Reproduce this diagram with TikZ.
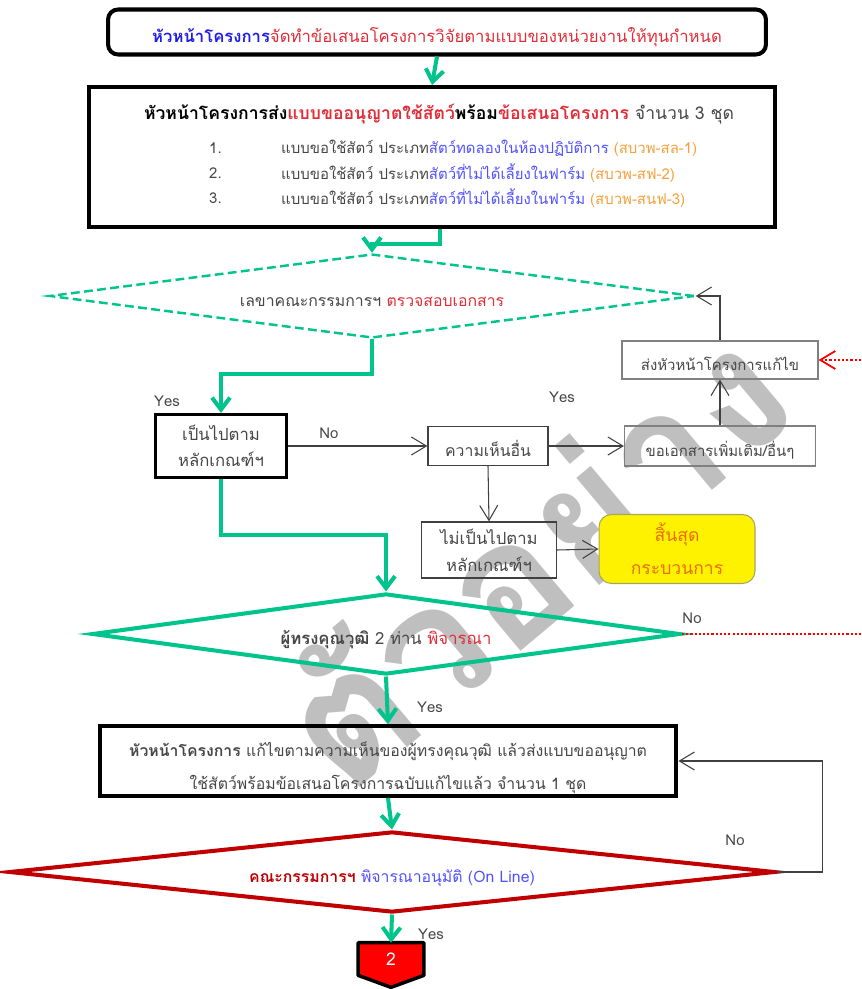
\documentclass[tikz,border=0pt]{standalone}
\usepackage{fontspec}
\setmainfont[Script=Thai]{Loma}
\usetikzlibrary{calc,shapes.geometric,arrows.meta}

\definecolor{flowgreen}{RGB}{0,196,140}
\definecolor{linegray}{RGB}{64,64,64}
\definecolor{boxgray}{RGB}{128,128,128}
\definecolor{textgray}{RGB}{70,70,70}
\definecolor{leadblue}{RGB}{30,30,230}
\definecolor{alertred}{RGB}{225,45,55}
\definecolor{itemblue}{RGB}{80,80,255}
\definecolor{codeorange}{RGB}{245,160,60}
\definecolor{boardred}{RGB}{192,0,0}
\definecolor{endorange}{RGB}{235,110,0}
\definecolor{wmgray}{RGB}{191,191,191}
\definecolor{dotred}{RGB}{255,0,0}

\begin{document}
\begin{tikzpicture}[x=0.02cm, y=-0.02cm,
  font=\fontsize{9}{11}\selectfont, text=textgray,
  lowtext/.style={text height=12.5pt, text depth=0pt},
  thickbox/.style={draw=black, line width=2.3pt, inner sep=0pt, align=center},
  thinbox/.style={draw=linegray, line width=0.7pt, inner sep=0pt, align=center},
  greybox/.style={draw=boxgray, line width=0.7pt, inner sep=0pt, align=center, lowtext},
  decision/.style={diamond, aspect=7, inner sep=0pt, lowtext},
  greenflow/.style={draw=flowgreen, line width=2.3pt, -{Straight Barb[length=2.4mm,width=3.6mm]}},
  flowline/.style={draw=linegray, line width=0.6pt, -{Straight Barb[length=3mm,width=3.6mm]}},
  reddots/.style={draw=dotred, line width=1.2pt, dash pattern=on 1.2pt off 1.2pt},
  answer/.style={font=\fontsize{8.5}{10}\selectfont, text=textgray}]
  \useasboundingbox (0,0) rectangle (861,989);

  % Watermark behind the chart
  \node[rotate=40, text=wmgray, font=\bfseries\fontsize{99}{99}\selectfont] (stamp) at (530,553) {ตัวอย่าง};

  % Top part
  \node[thickbox, lowtext, rounded corners=2mm, minimum width=131.6mm, minimum height=9mm, font=\fontsize{9.5}{12}\selectfont] (title) at (437,32)
    {\textcolor{leadblue}{\bfseries หัวหน้าโครงการ}\textcolor{alertred}{จัดทำข้อเสนอโครงการวิจัยตามแบบของหน่วยงานให้ทุนกำหนด}};
  \node[thickbox, minimum width=137.4mm, minimum height=28mm] (request) at (432,157) {};
  \node[font=\fontsize{10}{12}\selectfont] (reqHead) at (439,114)
    {\textcolor{black}{\bfseries หัวหน้าโครงการส่ง\textcolor{alertred}{แบบขออนุญาตใช้สัตว์}พร้อม\textcolor{alertred}{ข้อเสนอโครงการ}} จำนวน 3 ชุด};
  \foreach \n/\kind/\code/\y in {1/สัตว์ทดลองในห้องปฏิบัติการ/สบวพ-สล-1/148,
                                 2/สัตว์ที่ไม่ได้เลี้ยงในฟาร์ม/สบวพ-สฟ-2/173,
                                 3/สัตว์ที่ไม่ได้เลี้ยงในฟาร์ม/สบวพ-สนฟ-3/198} {
    \node[anchor=west, font=\fontsize{8.5}{10}\selectfont] (reqNum\n) at (203,\y) {\n.};
    \node[anchor=west, font=\fontsize{8.5}{10}\selectfont] (reqItem\n) at (275,\y)
      {แบบขอใช้สัตว์ ประเภท\textcolor{itemblue}{\kind} \textcolor{codeorange}{(\code)}};
  }

  % Secretary check
  \node[decision, draw=flowgreen, line width=1.4pt, dash pattern=on 5pt off 2.5pt,
        minimum width=129mm, minimum height=16.8mm] (secCheck) at (372,296)
    {เลขาคณะกรรมการฯ \textcolor{alertred}{ตรวจสอบเอกสาร}};

  % Middle boxes
  \node[thickbox, line width=1.8pt, minimum width=26.2mm, minimum height=12.6mm, font=\fontsize{9.5}{15}\selectfont] (ruleBox) at (221,446) {เป็นไปตาม\\หลักเกณฑ์ฯ};
  \node[thinbox, lowtext, minimum width=24mm, minimum height=7.8mm] (otherBox) at (488,446) {ความเห็นอื่น};
  \node[greybox, minimum width=38.2mm, minimum height=8mm, font=\fontsize{8.5}{10}\selectfont] (moreBox) at (720,446) {ขอเอกสารเพิ่มเติม/อื่นๆ};
  \node[greybox, minimum width=39.2mm, minimum height=7.6mm, font=\fontsize{8.5}{10}\selectfont] (sendBack) at (720,360) {ส่งหัวหน้าโครงการแก้ไข};
  \node[thinbox, minimum width=27mm, minimum height=11.2mm, font=\fontsize{9.5}{15.5}\selectfont] (notRule) at (489,550) {ไม่เป็นไปตาม\\หลักเกณฑ์ฯ};
  \node[draw=boxgray!70!yellow, fill=yellow, line width=0.6pt, rounded corners=2.5mm, align=center,
        minimum width=31.2mm, minimum height=13.8mm, text=endorange,
        font=\fontsize{10}{19}\selectfont] (endBox) at (677,549) {สิ้นสุด\\กระบวนการ};

  % Expert review
  \node[decision, draw=flowgreen, line width=2.3pt, minimum width=117.6mm, minimum height=16.2mm,
        font=\fontsize{9.5}{11}\selectfont] (expertCheck) at (386,634)
    {\textbf{ผู้ทรงคุณวุฒิ} 2 ท่าน \textcolor{alertred}{พิจารณา}};
  \node[thickbox, minimum width=115.4mm, minimum height=14mm] (revise) at (388,761) {};
  \node[align=center, font=\fontsize{9}{19}\selectfont] (reviseText) at (388,768)
    {\textbf{หัวหน้าโครงการ} แก้ไขตามความเห็นของผู้ทรงคุณวุฒิ แล้วส่งแบบขออนุญาต\\ใช้สัตว์พร้อมข้อเสนอโครงการฉบับแก้ไขแล้ว จำนวน 1 ชุด};
  \node[decision, draw=boardred, line width=2.3pt, minimum width=153.2mm, minimum height=16.2mm] (boardCheck) at (392,872)
    {\textcolor{boardred}{\bfseries คณะกรรมการฯ} \textcolor{itemblue}{พิจารณาอนุมัติ (On Line)}};

  % Off-page link
  \node[minimum width=13mm, minimum height=6.4mm, inner sep=0pt] (pageLink) at (391,959) {};
  \draw[fill=red, line width=2pt, line join=round] (pageLink.north west) -- (pageLink.north east)
    -- (pageLink.south east) -- ($(pageLink.south)+(0,12)$) -- (pageLink.south west) -- cycle;
  \node[text=white, font=\fontsize{10}{12}\selectfont] (pageNum) at (pageLink.center) {2};

  % Green flow
  \draw[greenflow] (title.south) -- (request.north);
  \draw[greenflow] ($(request.south)+(8,0)$) -- ++(0,15) -| (secCheck.north);
  \draw[greenflow] (secCheck.south) -- ++(0,35) -| (ruleBox.north);
  \draw[greenflow] (ruleBox.south) -- ++(0,56) -| (expertCheck.north);
  \draw[greenflow] (expertCheck.south) -- (revise.north);
  \draw[greenflow] (revise.south) -- (boardCheck.north);
  \draw[greenflow] (boardCheck.south) -- (pageLink.north);

  % Thin connectors
  \draw[flowline] (ruleBox.east) -- (otherBox.west);
  \draw[flowline] (otherBox.east) -- (moreBox.west);
  \draw[flowline] (moreBox.north) -- (sendBack.south);
  \draw[flowline] (sendBack.north) |- (secCheck.east);
  \draw[flowline] (otherBox.south) -- (notRule.north);
  \draw[flowline] (notRule.east) -- (endBox.west);
  \draw[flowline] (boardCheck.east) -- ++(46,0) |- (revise.east);

  % Red dotted links from the right
  \coordinate (backIn) at (861,360);
  \coordinate (expertOut) at (861,634);
  \draw[reddots, -{Straight Barb[length=3mm,width=3.6mm,line width=1pt]}] (backIn) -- (sendBack.east);
  \draw[reddots] (expertCheck.east) -- (expertOut);

  % Answers
  \node[answer] (yesRule) at (167,401) {Yes};
  \node[answer] (noRule) at (329,433) {No};
  \node[answer] (yesMore) at (562,397) {Yes};
  \node[answer] (noExpert) at (692,618) {No};
  \node[answer] (yesExpert) at (430,707) {Yes};
  \node[answer] (noBoard) at (735,840) {No};
  \node[answer] (yesBoard) at (431,934) {Yes};
\end{tikzpicture}
\end{document}
